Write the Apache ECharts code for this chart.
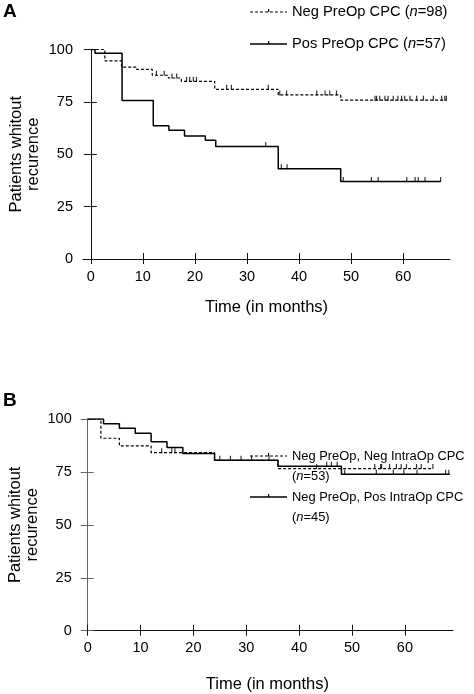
<!DOCTYPE html>
<html><head><meta charset="utf-8">
<script src="https://cdn.jsdelivr.net/npm/echarts@6/dist/echarts.min.js"></script>
<style>html,body{margin:0;padding:0;background:#fff}#c{width:474px;height:694px}</style>
</head><body><div id="c"></div>
<script>
// ---- data ----
const monthTicks = [0, 10, 20, 30, 40, 50, 60];
const percentTicks = [0, 25, 50, 75, 100];

// Panel A
const aNegName = 'Neg PreOp CPC (n=98)';
const aNegTimes = [0, 2.7, 5.9, 8.8, 11.8, 14.9, 17.4, 23.8, 36, 48, 68.3];
const aNegSurv  = [100, 94.6, 91.6, 90.5, 87.7, 86.4, 84.8, 81.0, 78.3, 75.8, 75.8];
const aNegCensor = [12.6, 14.1, 15.6, 16.5, 18.4, 19.0, 19.7, 20.3, 26.1, 27.0, 34.1, 36.3, 37.6, 43.4, 45.0, 45.9, 47.2,
  54.6, 54.9, 55.5, 56.5, 57.1, 58.1, 59.0, 59.7, 60.3, 61.3, 62.6, 63.9, 65.8, 67.4, 68.0, 68.3];

const aPosName = 'Pos PreOp CPC (n=57)';
const aPosTimes = [0, 0.8, 6, 12, 15, 18, 22, 24, 36, 48, 67.2];
const aPosSurv  = [100, 98.2, 75.7, 63.6, 61.4, 58.7, 56.7, 53.7, 43.1, 37.0, 37.0];
const aPosCensor = [33.6, 36.6, 37.7, 48.5, 53.9, 55.2, 60.7, 62.3, 62.9, 64.2, 67.2];

// Panel B
const bNegNegName = 'Neg PreOp, Neg IntraOp CPC (n=53)';
const bNegNegTimes = [0, 2.5, 6, 12, 24, 36, 65.3];
const bNegNegSurv  = [100, 90.9, 87.3, 84.1, 80.5, 76.6, 76.6];
const bNegNegCensor = [14.0, 15.9, 16.5, 25, 27, 29, 31, 43.3, 54.3, 55.4, 55.6, 57.1, 58.4, 59.3, 60.3, 62.2, 63.1, 65.3];

const bNegPosName = 'Neg PreOp, Pos IntraOp CPC (n=45)';
const bNegPosTimes = [0, 3, 6, 9, 12, 15, 18, 24, 36, 48, 68.5];
const bNegPosSurv  = [100, 97.8, 95.6, 93.3, 89.2, 86.5, 83.7, 80.5, 77.7, 73.9, 73.9];
const bNegPosCensor = [34.3, 45.2, 46.1, 47.2, 48.6, 54.6, 57.8, 59.8, 62.3, 67.7, 68.3];

// ---- helpers ----
const FONT = "'Liberation Sans', Arial, Helvetica, sans-serif";
function stepAt(times, surv, t) {
  let v = surv[0];
  for (let i = 0; i < times.length; i++) { if (times[i] <= t) v = surv[i]; }
  return v;
}
function curve(times, surv) { return times.map((t, i) => [t, surv[i]]); }
function censor(times, surv, cs) { return cs.map(t => [t, stepAt(times, surv, t)]); }

const axisColor = '#111';
function xAxes(gridIndex, min, max, nameGap) {
  return [
    {
      gridIndex, type: 'value', min, max, position: 'bottom',
      axisLine: { show: true, onZero: true, lineStyle: { color: axisColor, width: 1 } },
      axisTick: { show: true, length: 5, customValues: monthTicks, lineStyle: { color: axisColor } },
      axisLabel: { customValues: monthTicks, margin: 10, fontSize: 14.5, color: '#000', fontFamily: FONT },
      splitLine: { show: false },
      name: 'Time (in months)', nameLocation: 'middle', nameGap,
      nameTextStyle: { fontSize: 16.5, color: '#000', fontFamily: FONT }
    },
    {
      gridIndex, type: 'value', min, max, position: 'bottom',
      axisLine: { show: false, onZero: true },
      axisTick: { show: true, inside: true, length: 6, customValues: monthTicks, lineStyle: { color: axisColor } },
      axisLabel: { show: false },
      splitLine: { show: false }
    }
  ];
}
function yAxes(gridIndex, lineColor) {
  return [
    {
      gridIndex, type: 'value', min: 0, max: 100, interval: 25, position: 'left',
      axisLine: { show: true, onZero: true, lineStyle: { color: lineColor, width: 1 } },
      axisTick: { show: true, length: 7, lineStyle: { color: lineColor } },
      axisLabel: { margin: 10, fontSize: 14.5, color: '#000', fontFamily: FONT },
      splitLine: { show: false },
      name: 'Patients whitout\nrecurence', nameLocation: 'middle', nameGap: 41, nameMoveOverlap: false,
      nameTextStyle: { fontSize: 16.5, lineHeight: 17, color: '#000', fontFamily: FONT, align: 'center' }
    },
    {
      gridIndex, type: 'value', min: 0, max: 100, interval: 25, position: 'left',
      axisLine: { show: false, onZero: true },
      axisTick: { show: true, inside: true, length: 6, lineStyle: { color: lineColor } },
      axisLabel: { show: false },
      splitLine: { show: false }
    }
  ];
}

function lineSeries(name, times, surv, xi, yi, dashed) {
  return {
    name, type: 'line', step: 'end', xAxisIndex: xi, yAxisIndex: yi,
    data: curve(times, surv), showSymbol: false, symbol: 'none', silent: true,
    lineStyle: { color: '#000', width: dashed ? 1.2 : 1.5, type: dashed ? [3, 2] : 'solid' },
    z: 3
  };
}
function censorSeries(name, times, surv, cs, xi, yi) {
  return {
    name, type: 'scatter', xAxisIndex: xi, yAxisIndex: yi,
    data: censor(times, surv, cs), symbol: 'rect', symbolSize: [1.2, 5], symbolOffset: [0, -2],
    itemStyle: { color: '#000' }, silent: true, z: 4
  };
}

function legendEntry(x, y, dashed, lines, fs) {
  const children = [
    { type: 'line', shape: { x1: x, y1: y, x2: x + 37, y2: y },
      style: { stroke: '#000', lineWidth: dashed ? 1.2 : 1.5, lineDash: dashed ? [3, 2] : null } },
    { type: 'rect', shape: { x: x + 18, y: y - 3, width: 1.2, height: 3 }, style: { fill: '#000' } }
  ];
  lines.forEach((txt, k) => {
    children.push({
      type: 'text', x: x + 42, y: y + k * 20,
      style: { text: txt, verticalAlign: 'middle', align: 'left', fill: '#000',
        font: fs + 'px ' + FONT,
        rich: { a: { font: fs + 'px ' + FONT, fill: '#000' },
                i: { font: 'italic ' + fs + 'px ' + FONT, fill: '#000' } } }
    });
  });
  return { type: 'group', children };
}

const chart = echarts.init(document.getElementById('c'), null, { renderer: 'canvas' });
chart.setOption({
  animation: false,
  backgroundColor: '#fff',
  grid: [
    { left: 83, top: 49.5, width: 367, height: 209.5, containLabel: false, outerBoundsMode: 'none' },
    { left: 81.7, top: 419, width: 371.3, height: 211.7, containLabel: false, outerBoundsMode: 'none' }
  ],
  xAxis: [...xAxes(0, -1.5, 69, 40), ...xAxes(1, -1.13, 69.1, 45)],
  yAxis: [...yAxes(0, axisColor), ...yAxes(1, '#666')],
  series: [
    lineSeries(aNegName, aNegTimes, aNegSurv, 0, 0, true),
    censorSeries(aNegName, aNegTimes, aNegSurv, aNegCensor, 0, 0),
    lineSeries(aPosName, aPosTimes, aPosSurv, 0, 0, false),
    censorSeries(aPosName, aPosTimes, aPosSurv, aPosCensor, 0, 0),
    lineSeries(bNegNegName, bNegNegTimes, bNegNegSurv, 2, 2, true),
    censorSeries(bNegNegName, bNegNegTimes, bNegNegSurv, bNegNegCensor, 2, 2),
    lineSeries(bNegPosName, bNegPosTimes, bNegPosSurv, 2, 2, false),
    censorSeries(bNegPosName, bNegPosTimes, bNegPosSurv, bNegPosCensor, 2, 2)
  ],
  graphic: [
    { type: 'text', x: 3, y: 2, style: { text: 'A', font: 'bold 19px ' + FONT, fill: '#000' } },
    { type: 'text', x: 3, y: 391, style: { text: 'B', font: 'bold 19px ' + FONT, fill: '#000' } },
    legendEntry(250, 12, true, ['{a|Neg PreOp CPC (}{i|n}{a|=98)}'], 14.7),
    legendEntry(250, 44, false, ['{a|Pos PreOp CPC (}{i|n}{a|=57)}'], 14.7),
    legendEntry(250, 456, true, ['{a|Neg PreOp, Neg IntraOp CPC}', '{a|(}{i|n}{a|=53)}'], 12.9),
    legendEntry(250, 497, false, ['{a|Neg PreOp, Pos IntraOp CPC}', '{a|(}{i|n}{a|=45)}'], 12.9)
  ]
});
</script>
</body></html>
